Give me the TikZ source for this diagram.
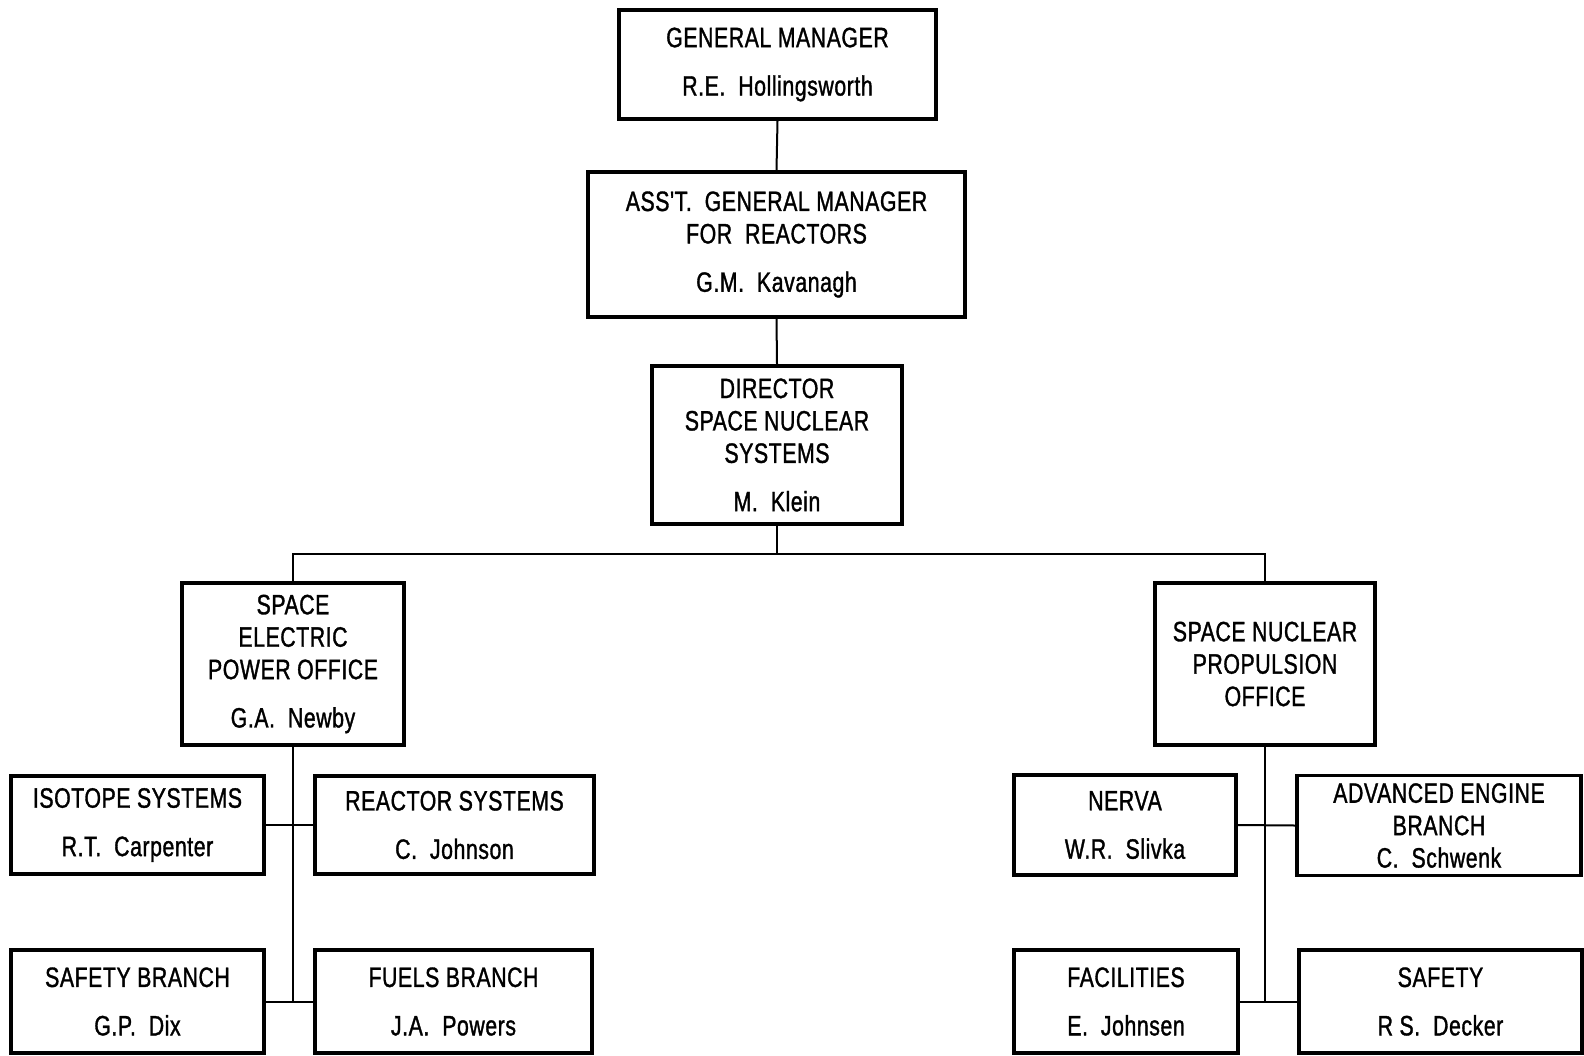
\documentclass[tikz,border=0pt]{standalone}
\usepackage{fontspec}
\setmainfont{Liberation Sans}[FakeStretch=0.76, FakeBold=1.2, Ligatures=TeXOff, LetterSpace=2]
\begin{document}
\begin{tikzpicture}[x=0.5pt,y=-0.5pt,
  box/.style={draw, line width=1.7pt, align=center, inner sep=0pt,
    font=\fontsize{14}{16.2}\selectfont},
  conn/.style={line width=1pt}]
\useasboundingbox (0,0) rectangle (1584,1055);
\node[box, minimum width=158.5pt, minimum height=54.5pt] (gm) at (777.5,64.5)
  {GENERAL MANAGER\\[8pt]R.E.\ \ Hollingsworth};
\node[box, minimum width=188.5pt, minimum height=72.5pt] (asst) at (776.5,244.5)
  {ASS'T.\ \ GENERAL MANAGER\\FOR\ \ REACTORS\\[8pt]G.M.\ \ Kavanagh};
\node[box, minimum width=125pt, minimum height=79pt] (dir) at (777,445)
  {DIRECTOR\\SPACE NUCLEAR\\SYSTEMS\\[8pt]M.\ \ Klein};
\node[box, minimum width=111pt, minimum height=81pt] (sepo) at (293,664)
  {SPACE\\ELECTRIC\\POWER OFFICE\\[8pt]G.A.\ \ Newby};
\node[box, minimum width=110pt, minimum height=81pt] (snpo) at (1265,664)
  {SPACE NUCLEAR\\PROPULSION\\OFFICE};
\node[box, minimum width=126.5pt, minimum height=49pt] (iso) at (137.5,825)
  {ISOTOPE SYSTEMS\\[8pt]R.T.\ \ Carpenter};
\node[box, minimum width=139.5pt, minimum height=49pt] (reac) at (454.5,825)
  {REACTOR SYSTEMS\\[8pt]C.\ \ Johnson};
\node[box, minimum width=126.5pt, minimum height=51.5pt] (safb) at (137.5,1001.5)
  {SAFETY BRANCH\\[8pt]G.P.\ \ Dix};
\node[box, minimum width=138.5pt, minimum height=51.5pt] (fuel) at (453.5,1001.5)
  {FUELS BRANCH\\[8pt]J.A.\ \ Powers};
\node[box, minimum width=111pt, minimum height=50pt] (nerva) at (1125,825)
  {NERVA\\[8pt]W.R.\ \ Slivka};
\node[box, minimum width=142pt, minimum height=50pt] (adv) at (1439,825.5)
  {ADVANCED ENGINE\\BRANCH\\C.\ \ Schwenk};
\node[box, minimum width=112pt, minimum height=51.5pt] (fac) at (1126,1001.5)
  {FACILITIES\\[8pt]E.\ \ Johnsen};
\node[box, minimum width=141.5pt, minimum height=51.5pt] (saf) at (1440.5,1001.5)
  {SAFETY\\[8pt]R S.\ \ Decker};
\coordinate (busL) at (293,554);
\coordinate (busR) at (1265,554);
\draw[conn] (gm.south) -- (asst.north);
\draw[conn] (asst.south) -- (dir.north);
\draw[conn] (dir.south) -- (dir.south |- busL);
\draw[conn] (sepo.north) -- (busL) -- (busR) -- (snpo.north);
\draw[conn] (sepo.south) -- (sepo.south |- safb.east);
\draw[conn] (iso.east) -- (reac.west);
\draw[conn] (safb.east) -- (fuel.west);
\draw[conn] (snpo.south) -- (snpo.south |- fac.east);
\draw[conn] (nerva.east) -- (adv.west);
\draw[conn] (fac.east) -- (saf.west);
\end{tikzpicture}
\end{document}
